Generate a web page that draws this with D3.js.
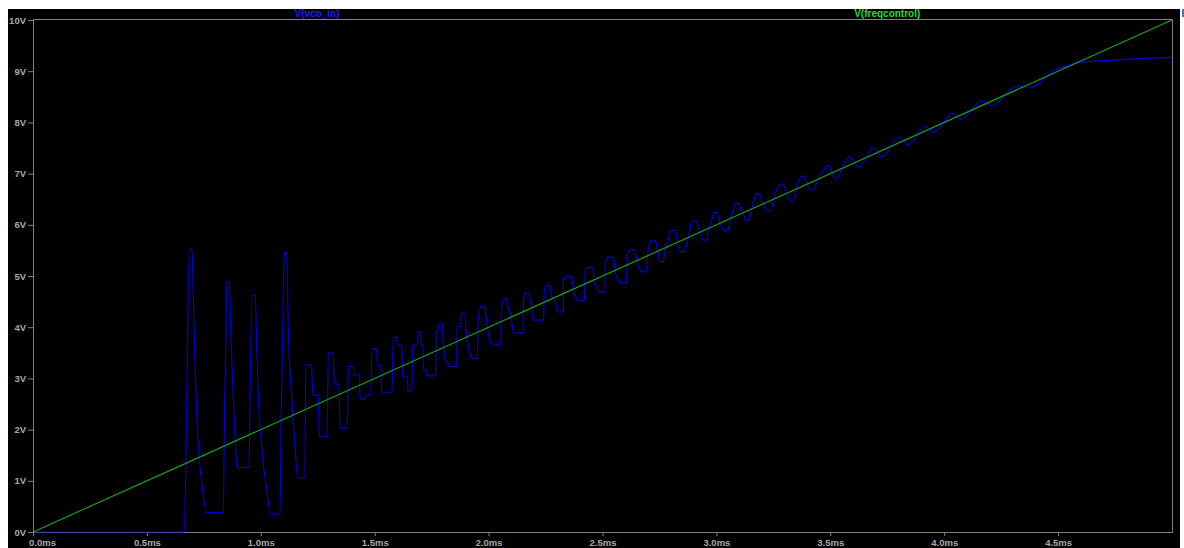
<!DOCTYPE html>
<html><head><meta charset="utf-8">
<script src="https://cdn.jsdelivr.net/npm/d3@7"></script>
<style>html,body{margin:0;padding:0;background:#fff;overflow:hidden;} svg{display:block;}</style>
</head><body>
<svg id="chart" width="1184" height="548"></svg>
<script>
// ---- data (time in ms, voltage in V) ----
const seriesNames = ["V(vco_in)", "V(freqcontrol)"];

const freqTime = [0, 5];
const freqVolt = [0, 10];

const vcoTime = [
 0, 0.6642, 0.6738, 0.6861, 0.6980, 0.7037, 0.7112, 0.7256, 0.7406, 0.7625,
 0.8354, 0.8398, 0.8472, 0.8503, 0.8617, 0.8679, 0.8793, 0.8898, 0.8955, 0.9482,
 0.9526, 0.9627, 0.9759, 0.9820, 0.9890, 1.0040, 1.0259, 1.0448, 1.0843, 1.0887,
 1.0961, 1.1032, 1.1137, 1.1207, 1.1357, 1.1501, 1.1620, 1.1940, 1.1971, 1.2234,
 1.2278, 1.2524, 1.2568, 1.2906, 1.2963, 1.3183, 1.3227, 1.3433, 1.3477, 1.3797,
 1.3841, 1.4061, 1.4091, 1.4324, 1.4355, 1.4574, 1.4618, 1.4838, 1.4868, 1.5088,
 1.5114, 1.5263, 1.5307, 1.5759, 1.5817, 1.5966, 1.6010, 1.6185, 1.6229, 1.6431,
 1.6462, 1.6637, 1.6659, 1.6888, 1.6901, 1.7032, 1.7054, 1.7120, 1.7142, 1.7283,
 1.7296, 1.7678, 1.7691, 1.7792, 1.7836, 1.7968, 1.8011, 1.8161, 1.8262, 1.8275,
 1.8600, 1.8613, 1.8789, 1.8802, 1.8964, 1.8995, 1.9184, 1.9258, 1.9513, 1.9535,
 1.9666, 1.9842, 1.9873, 2.0061, 2.0162, 2.0544, 2.0558, 2.0645, 2.0795, 2.0839,
 2.0983, 2.1084, 2.1115, 2.1510, 2.1532, 2.1598, 2.1729, 2.1817, 2.1892, 2.1962,
 2.2419, 2.2445, 2.2551, 2.2695, 2.2770, 2.2915, 2.2990, 2.3016, 2.3280, 2.3288,
 2.3429, 2.3648, 2.3718, 2.3868, 2.3938, 2.4210, 2.4232, 2.4377, 2.4570, 2.4627,
 2.4772, 2.4816, 2.5110, 2.5123, 2.5255, 2.5474, 2.5549, 2.5694, 2.5768, 2.6062,
 2.6076, 2.6207, 2.6427, 2.6501, 2.6646, 2.6721, 2.6910, 2.7011, 2.7160, 2.7335,
 2.7379, 2.7450, 2.7524, 2.7669, 2.7744, 2.7889, 2.8007, 2.8183, 2.8257, 2.8327,
 2.8446, 2.8591, 2.8696, 2.8841, 2.8916, 2.9135, 2.9206, 2.9324, 2.9425, 2.9574,
 2.9645, 2.9794, 2.9864, 3.0013, 3.0114, 3.0259, 3.0347, 3.0496, 3.0597, 3.0742,
 3.0817, 3.0992, 3.1080, 3.1225, 3.1286, 3.1431, 3.1519, 3.1664, 3.1769, 3.1914,
 3.1989, 3.2133, 3.2252, 3.2397, 3.2498, 3.2647, 3.2792, 3.2937, 3.3099, 3.3231,
 3.3350, 3.3494, 3.3626, 3.3744, 3.3845, 3.3977, 3.4139, 3.4254, 3.4416, 3.4636,
 3.4842, 3.4956, 3.5075, 3.5206, 3.5307, 3.5470, 3.5646, 3.5865, 3.6229, 3.6888,
 3.7257, 3.8029, 3.8424, 3.9157, 3.9522, 4.0400, 4.0694, 4.1646, 4.2085, 4.3183,
 4.3841, 4.4939, 4.5377, 4.5667, 4.6401, 4.7862, 5.0000
];
const vcoVolt = [
 0, 0, 2.19, 5.52, 5.52, 4.60, 3.30, 1.67, 0.96, 0.38,
 0.38, 1.99, 3.95, 4.89, 4.89, 3.95, 2.64, 1.60, 1.26, 1.26,
 2.64, 4.62, 4.62, 3.62, 2.64, 1.67, 0.82, 0.35, 0.35, 1.99,
 3.95, 5.46, 5.46, 3.95, 2.64, 1.67, 1.06, 1.06, 3.26, 3.26,
 2.68, 2.68, 1.86, 1.86, 3.50, 3.50, 2.89, 2.89, 2.03, 2.03,
 3.23, 3.23, 3.07, 3.07, 2.60, 2.60, 2.68, 2.68, 3.57, 3.57,
 3.26, 3.26, 2.72, 2.72, 3.80, 3.80, 3.65, 3.65, 3.03, 3.03,
 2.75, 2.75, 3.65, 3.65, 3.91, 3.91, 3.65, 3.65, 3.16, 3.16,
 3.05, 3.05, 3.91, 3.98, 4.08, 4.08, 3.62, 3.30, 3.30, 3.23,
 3.23, 4.01, 4.01, 4.27, 4.27, 4.01, 3.49, 3.39, 3.39, 4.11,
 4.40, 4.40, 4.27, 3.72, 3.67, 3.67, 4.27, 4.55, 4.55, 4.43,
 4.21, 3.91, 3.89, 3.89, 4.53, 4.67, 4.67, 4.56, 4.34, 4.14,
 4.14, 4.73, 4.81, 4.81, 4.60, 4.53, 4.34, 4.30, 4.30, 4.92,
 4.99, 4.99, 4.73, 4.56, 4.52, 4.52, 5.08, 5.17, 5.17, 4.92,
 4.77, 4.69, 4.69, 5.28, 5.37, 5.37, 5.12, 4.92, 4.87, 4.87,
 5.41, 5.51, 5.51, 5.31, 5.12, 5.08, 5.08, 5.51, 5.69, 5.69,
 5.57, 5.44, 5.28, 5.28, 5.51, 5.70, 5.89, 5.89, 5.77, 5.57,
 5.48, 5.48, 5.64, 5.90, 6.07, 6.07, 5.93, 5.77, 5.70, 5.70,
 5.90, 6.09, 6.24, 6.24, 6.09, 5.93, 5.89, 5.89, 6.09, 6.30,
 6.42, 6.42, 6.29, 6.16, 6.09, 6.09, 6.26, 6.50, 6.60, 6.60,
 6.48, 6.32, 6.27, 6.27, 6.48, 6.68, 6.78, 6.78, 6.58, 6.47,
 6.47, 6.68, 6.88, 6.95, 6.95, 6.80, 6.68, 6.68, 6.84, 7.03,
 7.14, 7.14, 7.01, 6.91, 6.91, 7.07, 7.23, 7.32, 7.12, 7.51,
 7.32, 7.72, 7.56, 7.93, 7.80, 8.18, 8.05, 8.42, 8.32, 8.71,
 8.69, 9.04, 9.10, 9.15, 9.19, 9.23, 9.27
];

const xTickValues = [0, 0.5, 1.0, 1.5, 2.0, 2.5, 3.0, 3.5, 4.0, 4.5];
const xTickLabels = ["0.0ms","0.5ms","1.0ms","1.5ms","2.0ms","2.5ms","3.0ms","3.5ms","4.0ms","4.5ms"];
const yTickValues = [0,1,2,3,4,5,6,7,8,9,10];
const yTickLabels = ["0V","1V","2V","3V","4V","5V","6V","7V","8V","9V","10V"];

// ---- drawing ----
const svg = d3.select("#chart");
const W = 1184, H = 548;
const plot = {left: 33, right: 1172, top: 20, bottom: 532};

svg.append("rect").attr("x",0).attr("y",0).attr("width",W).attr("height",H).attr("fill","#ffffff");
svg.append("rect").attr("x",8).attr("y",9).attr("width",1172).attr("height",H-9).attr("fill","#000000");
svg.append("rect").attr("x",1182).attr("y",9).attr("width",2).attr("height",8).attr("fill","#4a78c0");

const x = d3.scaleLinear().domain([0,5]).range([plot.left, plot.right]);
const y = d3.scaleLinear().domain([0,10]).range([plot.bottom, plot.top]);

const labelFont = "'Liberation Sans', Arial, sans-serif";
const labelColor = "#a9a9a9";

// axes
const yAxis = d3.axisLeft(y).tickValues(yTickValues)
  .tickFormat((d,i) => yTickLabels[i]).tickSize(5).tickPadding(2);
const gy = svg.append("g").attr("transform", `translate(${plot.left},0)`).call(yAxis);

const xAxis = d3.axisBottom(x).tickValues(xTickValues)
  .tickFormat((d,i) => xTickLabels[i]).tickSize(4).tickPadding(3);
const gx = svg.append("g").attr("transform", `translate(0,${plot.bottom})`).call(xAxis);

[gx, gy].forEach(g => {
  g.select(".domain").remove();
  g.selectAll(".tick line").attr("stroke", "#808080");
  g.selectAll(".tick text").attr("fill", labelColor)
    .attr("font-family", labelFont).attr("font-size", "9.5px").attr("font-weight", "bold");
});
// keep the first time label inside the plot's left edge (as the original does)
gx.selectAll(".tick text").filter((d) => d === 0).attr("text-anchor", "start").attr("x", -4.5);

// frame
svg.append("rect")
  .attr("x", plot.left + 0.5).attr("y", plot.top - 0.5)
  .attr("width", plot.right - plot.left).attr("height", plot.bottom - plot.top + 1)
  .attr("fill", "none").attr("stroke", "#808080").attr("stroke-width", 1);

// clip
svg.append("clipPath").attr("id","plotclip").append("rect")
  .attr("x", plot.left + 1).attr("y", plot.top).attr("width", plot.right - plot.left)
  .attr("height", plot.bottom - plot.top + 1);

const freqData = freqTime.map((t,i) => ({t, v: freqVolt[i]}));
const vcoData = vcoTime.map((t,i) => ({t, v: vcoVolt[i]}));

const line = d3.line().x(d => x(d.t)).y(d => y(d.v)).curve(d3.curveMonotoneX);

const g = svg.append("g").attr("clip-path","url(#plotclip)");
g.append("path").datum(vcoData).attr("d", line)
  .attr("fill","none").attr("stroke","#0000d8").attr("stroke-width",1.2).attr("stroke-linejoin","round");
g.append("path").datum(freqData).attr("d", d3.line().x(d => x(d.t)).y(d => y(d.v)))
  .attr("fill","none").attr("stroke","#18a018").attr("stroke-width",1.2);

// trace names (centred above the plot, positioned on the time axis)
const legendColors = ["#1a1aff", "#22dd22"];
const legendX = [1.247, 3.75];
seriesNames.forEach((name, i) => {
  svg.append("text")
    .attr("x", x(legendX[i])).attr("y", 17)
    .attr("text-anchor", "middle")
    .attr("font-family", labelFont).attr("font-size", "10px").attr("font-weight", "bold")
    .attr("fill", legendColors[i])
    .text(name);
});
</script>
</body></html>
